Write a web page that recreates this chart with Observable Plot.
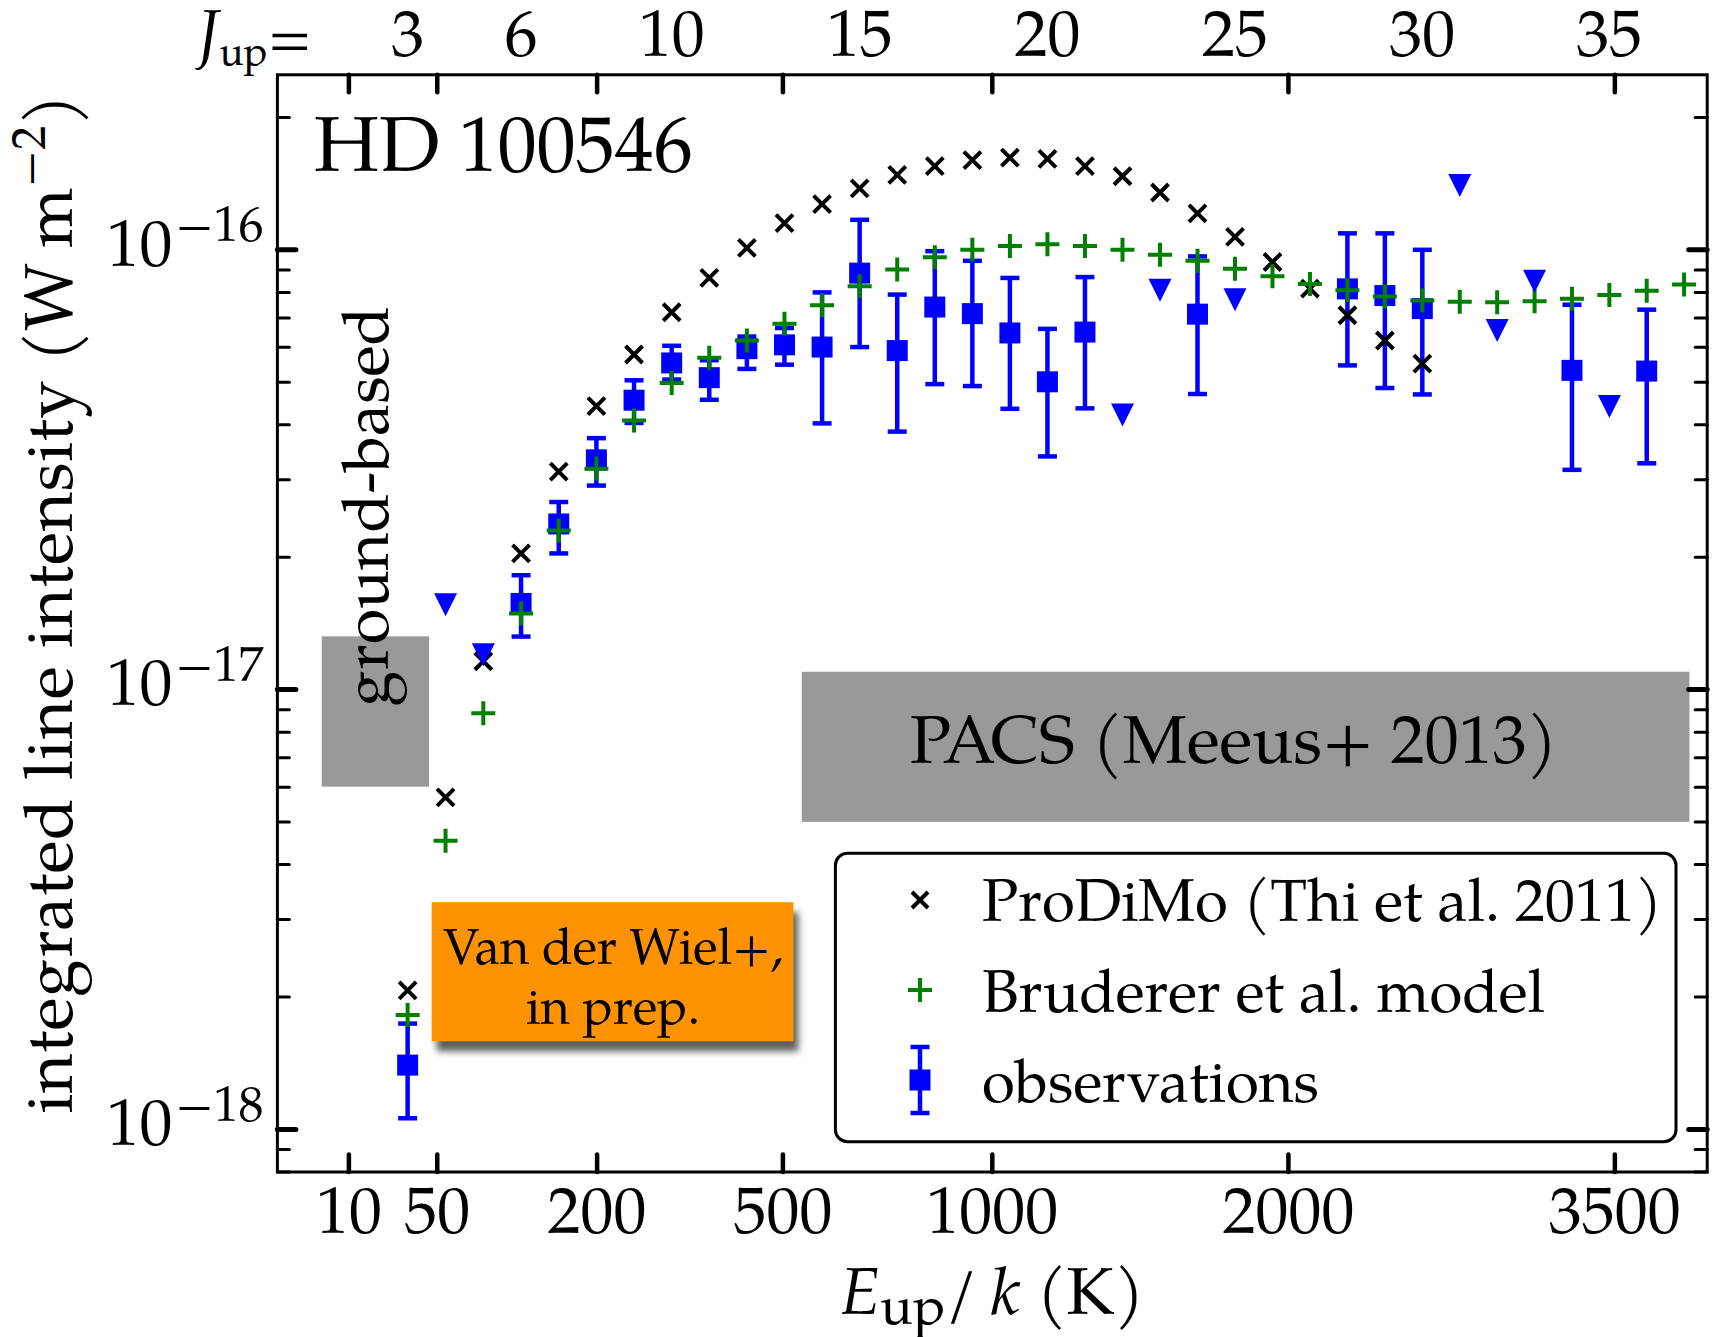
<!DOCTYPE html>
<html>
<head>
<meta charset="utf-8">
<script src="https://cdn.jsdelivr.net/npm/d3@7"></script>
<script src="https://cdn.jsdelivr.net/npm/@observablehq/plot@0.6"></script>
<style>
  html, body { margin: 0; padding: 0; background: #ffffff; }
  svg { display: block; }
</style>
</head>
<body>
<div id="chart"></div>
<script>
// ---------------- DATA ----------------
// CO rotational ladder: upper level J and its energy E_up/k (K)
const J_LEVELS = [3,4,5,6,7,8,9,10,11,12,13,14,15,16,17,18,19,20,21,22,23,24,25,26,27,28,29,30,31,32,33,34,35,36,37];
const E_UP = [33.19,55.32,82.97,116.16,154.87,199.11,248.88,304.16,364.97,431.29,503.13,580.49,663.35,751.72,845.59,944.97,1049.84,1160.20,1276.05,1397.38,1524.19,1656.47,1794.23,1937.44,2086.12,2240.24,2399.82,2564.83,2735.28,2911.15,3092.45,3279.15,3471.27,3668.78,3871.69];

// ProDiMo model (Thi et al. 2011), W m^-2
const PRODIMO_J = [3,4,5,6,7,8,9,10,11,12,13,14,15,16,17,18,19,20,21,22,23,24,25,26,27,28,29,30];
const PRODIMO_FLUX = [2.07e-18,5.69e-18,1.16e-17,2.04e-17,3.13e-17,4.41e-17,5.78e-17,7.21e-17,8.63e-17,1.01e-16,1.15e-16,1.27e-16,1.38e-16,1.48e-16,1.55e-16,1.60e-16,1.62e-16,1.61e-16,1.55e-16,1.47e-16,1.35e-16,1.21e-16,1.07e-16,9.38e-17,8.16e-17,7.10e-17,6.22e-17,5.51e-17];

// Bruderer et al. model
const BRUDERER_J = [3,4,5,6,7,8,9,10,11,12,13,14,15,16,17,18,19,20,21,22,23,24,25,26,27,28,29,30,31,32,33,34,35,36,37];
const BRUDERER_FLUX = [1.82e-18,4.53e-18,8.83e-18,1.49e-17,2.30e-17,3.18e-17,4.09e-17,4.98e-17,5.68e-17,6.22e-17,6.79e-17,7.48e-17,8.26e-17,9.02e-17,9.62e-17,1.00e-16,1.02e-16,1.03e-16,1.02e-16,1.00e-16,9.75e-17,9.44e-17,9.06e-17,8.71e-17,8.36e-17,8.09e-17,7.83e-17,7.67e-17,7.62e-17,7.60e-17,7.64e-17,7.74e-17,7.89e-17,8.07e-17,8.34e-17];

// Observations (detections with error bars)
const OBS_J = [3,6,7,8,9,10,11,12,13,14,15,16,17,18,19,20,21,24,28,29,30,34,36];
const OBS_FLUX = [1.40e-18,1.57e-17,2.38e-17,3.33e-17,4.55e-17,5.53e-17,5.12e-17,5.96e-17,6.08e-17,6.01e-17,8.85e-17,5.90e-17,7.41e-17,7.16e-17,6.47e-17,5.01e-17,6.50e-17,7.14e-17,8.15e-17,7.87e-17,7.35e-17,5.32e-17,5.30e-17];
const OBS_LO = [1.06e-18,1.32e-17,2.04e-17,2.91e-17,4.04e-17,5.07e-17,4.56e-17,5.36e-17,5.48e-17,4.03e-17,6.01e-17,3.86e-17,4.95e-17,4.90e-17,4.35e-17,3.39e-17,4.36e-17,4.70e-17,5.46e-17,4.85e-17,4.69e-17,3.16e-17,3.27e-17];
const OBS_HI = [1.74e-18,1.82e-17,2.67e-17,3.73e-17,5.05e-17,6.05e-17,5.61e-17,6.35e-17,6.64e-17,8.00e-17,1.17e-16,7.91e-17,9.93e-17,9.44e-17,8.63e-17,6.61e-17,8.67e-17,9.66e-17,1.09e-16,1.09e-16,1.00e-16,7.50e-17,7.31e-17];

// Observations: upper limits
const LIMIT_J = [4,5,22,23,25,31,32,33,35];
const LIMIT_FLUX = [1.56e-17,1.20e-17,4.21e-17,8.09e-17,7.70e-17,1.40e-16,6.55e-17,8.48e-17,4.40e-17];

// Axis ticks / labels
const X_TICKS = [10,50,200,500,1000,2000,3500];
const X_TICK_LABELS = ["10","50","200","500","1000","2000","3500"];
const J_TICKS = [3,6,10,15,20,25,30,35];
const J_TICK_LABELS = ["3","6","10","15","20","25","30","35"];
const Y_MAJOR = [1e-18,1e-17,1e-16];
const Y_MAJOR_EXP = ["\u221218","\u221217","\u221216"];

// Annotation regions (E_up range, intensity range)
const GROUND_BOX = [{x1: 3.93, x2: 45.3, y1: 6.0e-18, y2: 1.318e-17}];
const PACS_BOX = [{x1: 539, x2: 3904, y1: 4.99e-18, y2: 1.095e-17}];
const ORANGE_BOX = [{x1: 46.9, x2: 522, y1: 1.582e-18, y2: 3.277e-18}];
const GROUND_LABEL = [{x: 15.9, y: 2.61e-17, text: "ground-based"}];
const PACS_LABEL = [{x: 1790, y: 7.62e-18, text: "PACS (Meeus+ 2013)"}];
const ORANGE_LABEL = [{x: 220.5, y: 2.25e-18, text: "Van der Wiel+,\nin prep."}];

// ---------------- BUILD ----------------
const eOf = j => E_UP[J_LEVELS.indexOf(j)];
const prodimo = PRODIMO_J.map((j, i) => ({E: eOf(j), v: PRODIMO_FLUX[i]}));
const bruderer = BRUDERER_J.map((j, i) => ({E: eOf(j), v: BRUDERER_FLUX[i]}));
const obs = OBS_J.map((j, i) => ({E: eOf(j), v: OBS_FLUX[i], lo: OBS_LO[i], hi: OBS_HI[i]}));
const limits = LIMIT_J.map((j, i) => ({E: eOf(j), v: LIMIT_FLUX[i]}));
const topTicks = J_TICKS.map((j, i) => ({E: eOf(j), label: J_TICK_LABELS[i]}));
const xTicks = X_TICKS.map((v, i) => ({v, label: X_TICK_LABELS[i]}));
const yMajor = Y_MAJOR.map((v, i) => ({v, exp: Y_MAJOR_EXP[i]}));
const yMinor = [];
for (const k of [-19, -18, -17, -16]) for (let m = 2; m <= 9; m++) {
  const v = m * Math.pow(10, k);
  if (v >= 8e-19 && v <= 2.5e-16) yMinor.push(v);
}

const FONT = "Palatino, 'Palatino Linotype', 'TeX Gyre Pagella', 'Liberation Serif', serif";
const BLUE = "#0000ff", GREEN = "#008000";
const SHADOW = "#4a4a4a";

const half = s => Math.sqrt(s / Math.PI);
const symTimes = {draw(c, s) { const h = half(s); c.moveTo(-h, -h); c.lineTo(h, h); c.moveTo(-h, h); c.lineTo(h, -h); }};
const symPlus = {draw(c, s) { const h = half(s); c.moveTo(-h, 0); c.lineTo(h, 0); c.moveTo(0, -h); c.lineTo(0, h); }};
const symSquare = {draw(c, s) { const h = half(s); c.moveTo(-h, -h); c.lineTo(h, -h); c.lineTo(h, h); c.lineTo(-h, h); c.closePath(); }};
const symTriDown = {draw(c, s) { const h = half(s); c.moveTo(0, h); c.lineTo(-h, -h); c.lineTo(h, -h); c.closePath(); }};
const symHLine = {draw(c, s) { const h = half(s); c.moveTo(-h, 0); c.lineTo(h, 0); }};
const tickShape = {draw(c, l) { c.moveTo(0, 0); c.lineTo(0, -l); }};

const tickSet = (data, acc, anchor, rotate, length, sw) =>
  Plot.vector(data, {[anchor === "left" || anchor === "right" ? "y" : "x"]: acc, frameAnchor: anchor, rotate, length, anchor: "start", shape: tickShape, stroke: "black", strokeWidth: sw});

const chart = Plot.plot({
  width: 1713,
  height: 1337,
  marginLeft: 276.9,
  marginRight: 6.3,
  marginTop: 74.3,
  marginBottom: 165.5,
  x: {type: "sqrt", domain: [0, 4000], axis: null},
  y: {type: "log", domain: [8e-19, 2.5e-16], axis: null},
  style: {fontFamily: FONT, background: "#ffffff", color: "black"},
  marks: [
    // annotation boxes
    Plot.rect(GROUND_BOX, {x1: "x1", x2: "x2", y1: "y1", y2: "y2", fill: "#999999"}),
    Plot.rect(PACS_BOX, {x1: "x1", x2: "x2", y1: "y1", y2: "y2", fill: "#999999"}),
    Plot.rect(ORANGE_BOX, {x1: "x1", x2: "x2", y1: "y1", y2: "y2", fill: SHADOW, dx: 5, dy: 10, fillOpacity: 0.9}),
    Plot.rect(ORANGE_BOX, {x1: "x1", x2: "x2", y1: "y1", y2: "y2", fill: "#ff9200"}),
    Plot.text(GROUND_LABEL, {x: "x", y: "y", text: "text", rotate: -90, fontSize: 64.5, fill: "black"}),
    Plot.text(PACS_LABEL, {x: "x", y: "y", text: "text", fontSize: 68, fill: "black"}),
    Plot.text(ORANGE_LABEL, {x: "x", y: "y", text: "text", fontSize: 50.5, lineHeight: 1.19, fill: "black"}),

    // observations: error bars, caps, squares
    Plot.ruleX(obs, {x: "E", y1: "lo", y2: "hi", stroke: BLUE, strokeWidth: 4.5}),
    Plot.dot(obs, {x: "E", y: "lo", symbol: symHLine, r: 9.5, stroke: BLUE, strokeWidth: 4.5, fill: "none"}),
    Plot.dot(obs, {x: "E", y: "hi", symbol: symHLine, r: 9.5, stroke: BLUE, strokeWidth: 4.5, fill: "none"}),
    Plot.dot(obs, {x: "E", y: "v", symbol: symSquare, r: 10.5, fill: BLUE, stroke: "none"}),
    // models
    Plot.dot(prodimo, {x: "E", y: "v", symbol: symTimes, r: 8.5, stroke: "black", strokeWidth: 4, fill: "none"}),
    Plot.dot(bruderer, {x: "E", y: "v", symbol: symPlus, r: 12, stroke: GREEN, strokeWidth: 4, fill: "none"}),
    // upper limits
    Plot.dot(limits, {x: "E", y: "v", symbol: symTriDown, r: 11.5, fill: BLUE, stroke: "none"}),

    // frame and ticks
    Plot.frame({stroke: "black", strokeWidth: 3}),
    tickSet(xTicks, "v", "bottom", 0, 17.5, 4.5),
    tickSet(xTicks, "v", "top", 180, 17.5, 4.5),
    tickSet(yMajor, "v", "left", 90, 18.5, 5),
    tickSet(yMinor, d => d, "left", 90, 12, 3),
    tickSet(yMajor, "v", "right", -90, 18.5, 5),
    tickSet(yMinor, d => d, "right", -90, 12, 3),

    // tick labels
    Plot.text(xTicks, {x: "v", frameAnchor: "bottom", lineAnchor: "middle", text: "label", dy: 40, fontSize: 66, fill: "black"}),
    Plot.text(topTicks, {x: "E", frameAnchor: "top", lineAnchor: "middle", text: "label", dy: -40.4, fontSize: 66, fill: "black"}),
    Plot.text(yMajor, {y: "v", frameAnchor: "left", lineAnchor: "middle", text: () => "10", textAnchor: "end", dx: -105, dy: -5.3, fontSize: 66, fill: "black"}),
    Plot.text(yMajor, {y: "v", frameAnchor: "left", lineAnchor: "middle", text: "exp", textAnchor: "end", dx: -14, dy: -24.5, fontSize: 50, fill: "black"}),

    // axis titles and labels
    Plot.text(["J_up="], {frameAnchor: "top-left", lineAnchor: "middle", textAnchor: "start", dx: -79.9, dy: -40.4, fontSize: 66, fill: "black"}),
    Plot.text(["E_up/k (K)"], {frameAnchor: "bottom", lineAnchor: "middle", textAnchor: "middle", dy: 120.4, fontSize: 66, fill: "black"}),
    Plot.text(["integrated line intensity (W m-2)"], {frameAnchor: "left", lineAnchor: "middle", textAnchor: "middle", rotate: -90, dx: -227, dy: -20, fontSize: 68, fill: "black"}),
    Plot.text(["HD 100546"], {frameAnchor: "top-left", lineAnchor: "middle", textAnchor: "start", dx: 36.6, dy: 71.3, fontSize: 78, fill: "black"})
  ]
});

// ---------------- POST: rich text, shadow blur, legend ----------------
const svg = d3.select(chart);
function rich(key, parts, extra) {
  svg.selectAll("text").filter(function () { return this.textContent === key; }).each(function () {
    const t = d3.select(this);
    t.text(null);
    for (const p of parts) {
      const s = t.append("tspan").text(p.t);
      if (p.italic) s.attr("font-style", "italic");
      if (p.size) s.attr("font-size", p.size);
      if (p.dy) s.attr("dy", p.dy);
    }
    if (extra) extra(t);
  });
}
rich("J_up=", [{t: "J", italic: true}, {t: "up", size: 40, dy: 9}, {t: "=", size: 58, dy: -9}]);
rich("E_up/k (K)", [{t: "E", italic: true}, {t: "up", size: 54, dy: 10}, {t: "/", dy: -10}, {t: "\u2009"}, {t: "k", italic: true}, {t: " (K)"}]);
rich("integrated line intensity (W m-2)", [{t: "integrated line intensity (W\u2009m"}, {t: "\u22122", size: 48, dy: -27}, {t: ")", dy: 27}],
  t => t.style("letter-spacing", "0.7px"));

const defs = svg.insert("defs", ":first-child");
defs.append("filter").attr("id", "blurShadow").attr("x", "-20%").attr("y", "-30%").attr("width", "140%").attr("height", "160%")
  .append("feGaussianBlur").attr("stdDeviation", 3.5);
svg.selectAll("g").filter(function () { return this.getAttribute("fill") === SHADOW; }).attr("filter", "url(#blurShadow)");

// legend
const lg = svg.append("g").attr("font-family", FONT).attr("text-anchor", "start");
lg.append("rect").attr("x", 835.4).attr("y", 853.3).attr("width", 840.6).attr("height", 288.4)
  .attr("rx", 12).attr("fill", "white").attr("stroke", "black").attr("stroke-width", 3);
const mx = 920;
lg.append("path").attr("d", `M${mx-8},${900-8}L${mx+8},${900+8}M${mx-8},${900+8}L${mx+8},${900-8}`)
  .attr("stroke", "black").attr("stroke-width", 4).attr("fill", "none");
lg.append("path").attr("d", `M${mx-12},990L${mx+12},990M${mx},978L${mx},1002`)
  .attr("stroke", GREEN).attr("stroke-width", 4).attr("fill", "none");
lg.append("path").attr("d", `M${mx},1047L${mx},1113M${mx-9.5},1047L${mx+9.5},1047M${mx-9.5},1113L${mx+9.5},1113`)
  .attr("stroke", BLUE).attr("stroke-width", 4.5).attr("fill", "none");
lg.append("rect").attr("x", mx - 10.5).attr("y", 1080 - 10.5).attr("width", 21).attr("height", 21).attr("fill", BLUE);
const legendLabels = ["ProDiMo (Thi et al. 2011)", "Bruderer et al. model", "observations"];
const legendBaselines = [920.7, 1011.7, 1101.7];
legendLabels.forEach((s, i) => {
  lg.append("text").attr("x", 982).attr("y", legendBaselines[i]).attr("font-size", 60).attr("fill", "black").attr("text-anchor", "start").text(s);
});

document.getElementById("chart").appendChild(chart);
</script>
</body>
</html>
